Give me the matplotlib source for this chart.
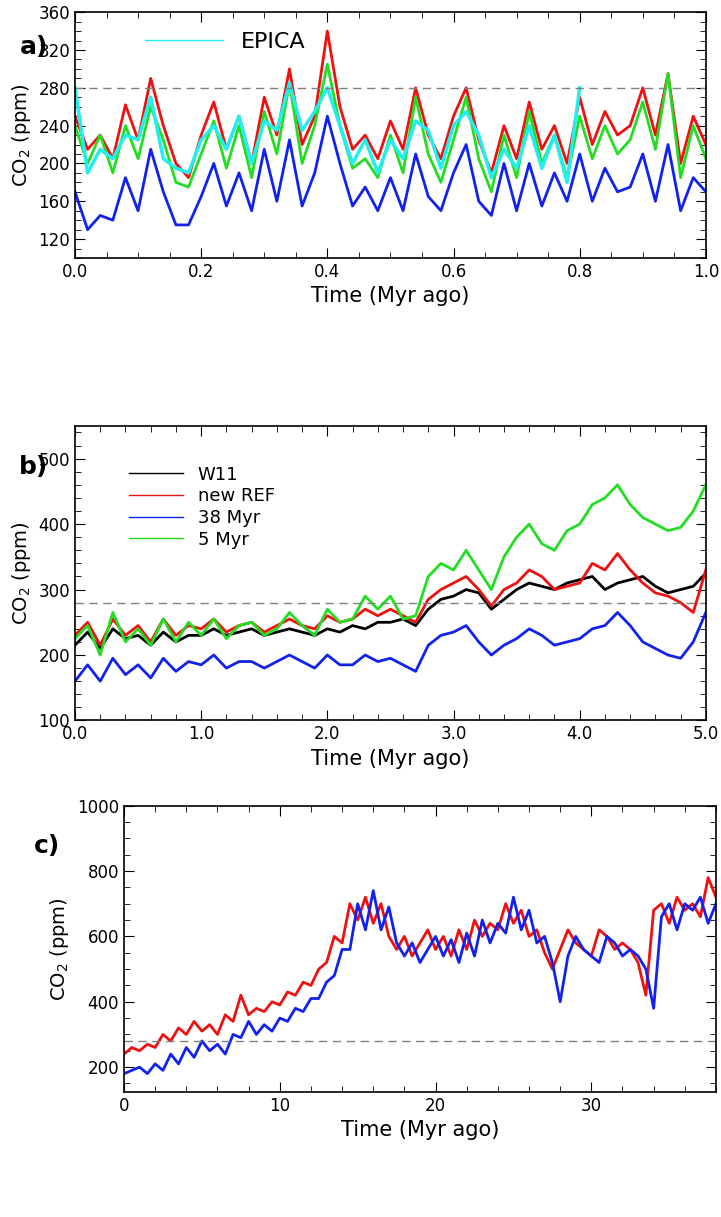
import numpy as np
import matplotlib.pyplot as plt
from matplotlib.ticker import AutoMinorLocator

# panel a, 0-1 Myr, step 0.02
a_red = [250,215,230,205,262,225,290,240,200,185,230,265,215,250,200,270,230,300,220,250,340,260,215,230,205,245,215,280,230,205,250,280,225,190,240,205,265,215,240,200,270,220,255,230,240,280,230,295,200,250,220]
a_green = [240,200,230,190,240,205,260,225,180,175,210,245,195,240,185,255,210,285,200,240,305,240,195,205,185,230,190,270,210,180,225,270,205,170,230,185,255,200,230,185,250,205,240,210,225,265,215,295,185,240,205]
a_blue = [170,130,145,140,185,150,215,170,135,135,165,200,155,190,150,215,160,225,155,190,250,200,155,175,150,185,150,210,165,150,190,220,160,145,200,150,200,155,190,160,210,160,195,170,175,210,160,220,150,185,170]
a_cyan = [280,190,215,205,230,225,270,205,195,190,225,240,215,250,200,245,235,285,235,255,280,240,200,225,190,225,205,245,235,195,240,255,230,185,215,195,240,195,230,180,280]

# panel b, 0-5 Myr, step 0.1
b_black = [215,235,210,240,225,230,215,235,220,230,230,240,230,235,240,230,235,240,235,230,240,235,245,240,250,250,255,245,270,285,290,300,295,270,285,300,310,305,300,310,315,320,300,310,315,320,305,295,300,305,325]
b_red = [230,250,215,255,230,245,220,255,230,245,240,255,235,245,250,235,245,255,245,240,260,250,255,270,260,270,260,250,285,300,310,320,300,275,300,310,330,320,300,305,310,340,330,355,330,310,295,290,280,265,330]
b_green = [225,245,200,265,220,240,215,255,220,250,230,255,225,245,250,230,240,265,245,230,270,250,255,290,270,290,255,260,320,340,330,360,330,300,350,380,400,370,360,390,400,430,440,460,430,410,400,390,395,420,460]
b_blue = [160,185,160,195,170,185,165,195,175,190,185,200,180,190,190,180,190,200,190,180,200,185,185,200,190,195,185,175,215,230,235,245,220,200,215,225,240,230,215,220,225,240,245,265,245,220,210,200,195,220,265]

# panel c, 0-38 Myr, step 0.5
c_red = [240,260,250,270,260,300,280,320,300,340,310,330,300,360,340,420,360,380,370,400,390,430,420,460,450,500,520,600,580,700,650,720,640,700,600,560,600,540,580,620,560,600,540,620,560,650,600,640,620,700,640,680,600,620,550,500,560,620,580,560,540,620,600,560,580,560,520,420,680,700,640,720,680,700,660,780,720]
c_blue = [180,190,200,180,210,190,240,210,260,230,280,250,270,240,300,290,340,300,330,310,350,340,380,370,410,410,460,480,560,560,700,620,740,620,690,580,540,580,520,560,600,540,590,520,610,540,650,580,640,610,720,620,680,580,600,520,400,540,600,560,540,520,600,580,540,560,540,500,380,660,700,620,700,680,720,640,700]

RED, GREEN, BLUE, CYAN = '#ee1111', '#22dd22', '#1122ee', '#22eeee'

fig = plt.figure(figsize=(7.21, 12.17), dpi=100)
ax_a = fig.add_axes([0.104, 0.788, 0.875, 0.202])
ax_b = fig.add_axes([0.104, 0.408, 0.875, 0.242])
ax_c = fig.add_axes([0.172, 0.103, 0.821, 0.235])


def style(ax, label, lx):
    ax.tick_params(direction='in', length=7, labelsize=12, top=True, right=True)
    ax.tick_params(which='minor', direction='in', length=4, top=True, right=True)
    ax.xaxis.set_minor_locator(AutoMinorLocator())
    ax.yaxis.set_minor_locator(AutoMinorLocator())
    ax.set_xlabel('Time (Myr ago)', fontsize=15)
    ax.set_ylabel('CO$_2$ (ppm)', fontsize=14)
    ax.axhline(280, color='gray', ls=(0, (6, 4)), lw=1)
    ax.text(lx, 0.86, label, transform=ax.transAxes,
            fontsize=18, fontweight='bold', ha='center', va='center')
    for s in ax.spines.values():
        s.set_linewidth(1.2)


xa = np.arange(len(a_red)) * 0.02
ax_a.plot(xa, a_red, color=RED, lw=2)
ax_a.plot(xa, a_green, color=GREEN, lw=2)
ax_a.plot(xa, a_blue, color=BLUE, lw=2)
ax_a.plot(np.arange(len(a_cyan)) * 0.02, a_cyan, color=CYAN, lw=2.5, label='EPICA')
ax_a.set_xlim(0, 1)
ax_a.set_ylim(100, 360)
ax_a.set_yticks(range(120, 361, 40))
ax_a.set_xticks(np.arange(0, 1.01, 0.2))
leg = ax_a.legend(loc='upper left', frameon=False, fontsize=16, handlelength=3.5,
                  bbox_to_anchor=(0.08, 1.0))
for h in leg.get_lines():
    h.set_linewidth(1)
style(ax_a, 'a)', -0.065)

xb = np.arange(len(b_black)) * 0.1
ax_b.plot(xb, b_black, color='black', lw=2, label='W11')
ax_b.plot(xb, b_red, color=RED, lw=2, label='new REF')
ax_b.plot(xb, b_blue, color=BLUE, lw=2, label='38 Myr')
ax_b.plot(xb, b_green, color=GREEN, lw=2, label='5 Myr')
ax_b.set_xlim(0, 5)
ax_b.set_ylim(100, 550)
ax_b.set_yticks(range(100, 501, 100))
ax_b.set_xticks(range(0, 6))
ax_b.set_xticklabels(['0.0', '1.0', '2.0', '3.0', '4.0', '5.0'])
leg = ax_b.legend(loc='upper left', frameon=False, fontsize=13, handlelength=3,
                  bbox_to_anchor=(0.06, 0.92), labelspacing=0.2)
for h in leg.get_lines():
    h.set_linewidth(1)
style(ax_b, 'b)', -0.065)

xc = np.arange(len(c_red)) * 0.5
ax_c.plot(xc, c_red, color=RED, lw=2)
ax_c.plot(xc, c_blue, color=BLUE, lw=2)
ax_c.set_xlim(0, 38)
ax_c.set_ylim(125, 1000)
ax_c.set_yticks(range(200, 1001, 200))
ax_c.set_xticks([0, 10, 20, 30])
style(ax_c, 'c)', -0.13)

fig.savefig('out.png', dpi=100)
